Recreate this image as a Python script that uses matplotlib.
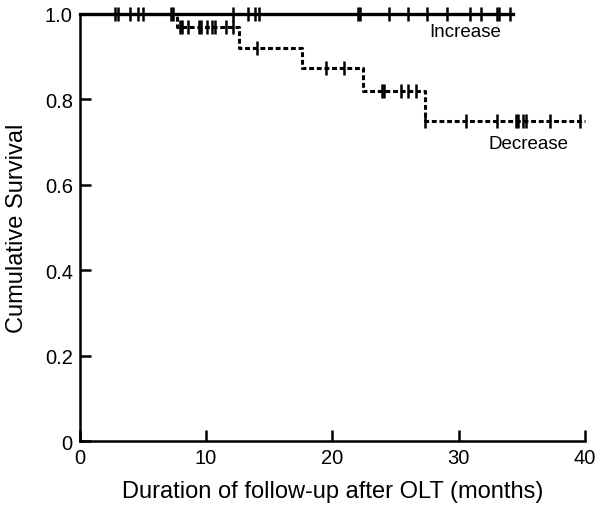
import numpy as np
import matplotlib
matplotlib.use('Agg')
import matplotlib.pyplot as plt

plt.rcParams['font.family'] = ['Liberation Sans', 'DejaVu Sans']

# Increase group: no events, stays at 1.0
inc_end = 34.3
inc_censor = [2.8, 3.0, 4.0, 4.6, 5.0, 7.2, 7.4, 12.1, 13.3, 13.9, 14.2,
              22.0, 22.2, 24.5, 26.0, 27.5, 29.1, 30.9, 31.8, 33.0, 33.2, 34.1]

# Decrease group: step curve
dec_times = [0, 7.7, 12.6, 17.6, 22.4, 27.3]
dec_surv = [1.0, 0.968, 0.92, 0.873, 0.819, 0.75]
dec_end = 40
dec_censor = [7.9, 8.1, 8.6, 9.4, 9.6, 10.1, 10.5, 10.7, 11.6, 12.1, 14.0,
              19.5, 20.9, 23.9, 24.1, 25.4, 26.0, 26.6, 27.35, 30.6, 33.0,
              34.5, 34.7, 35.1, 35.3, 37.2, 39.6]

x_ticks = [0, 10, 20, 30, 40]
y_ticks = [0, 0.2, 0.4, 0.6, 0.8, 1.0]
y_labels = ['0', '0.2', '0.4', '0.6', '0.8', '1.0']


def step_value(times, surv, t):
    idx = np.searchsorted(times, t, side='right') - 1
    return np.array(surv)[idx]


fig = plt.figure(figsize=(6, 5.1), dpi=100)
ax = fig.add_axes([0.133, 0.133, 0.842, 0.838])

# decrease curve (dashed)
xs = list(dec_times) + [dec_end]
ys = list(dec_surv) + [dec_surv[-1]]
ax.step(xs, ys, where='post', color='black', lw=2.2, linestyle=(0, (1.6, 0.9)),
        clip_on=False)
ax.plot(dec_censor, step_value(dec_times, dec_surv, dec_censor), linestyle='none',
        marker='|', ms=10, mew=1.8, color='black', clip_on=False)

# increase curve (solid)
ax.plot([0, inc_end], [1.0, 1.0], color='black', lw=2.4, clip_on=False)
ax.plot(inc_censor, np.ones(len(inc_censor)), linestyle='none', marker='|',
        ms=10, mew=1.8, color='black', clip_on=False)

ax.text(30.5, 0.958, 'Increase', fontsize=13.5, ha='center', va='center')
ax.text(35.5, 0.696, 'Decrease', fontsize=13.5, ha='center', va='center')

ax.set_xlim(0, 40)
ax.set_ylim(0, 1.0)
ax.set_xticks(x_ticks)
ax.set_yticks(y_ticks)
ax.set_yticklabels(y_labels)
ax.tick_params(direction='in', length=8, width=1.8, labelsize=14.5)
ax.tick_params(axis='x', pad=5)
ax.tick_params(axis='y', pad=5)
for s in ['top', 'right']:
    ax.spines[s].set_visible(False)
for s in ['left', 'bottom']:
    ax.spines[s].set_linewidth(1.8)

ax.set_xlabel('Duration of follow-up after OLT (months)', fontsize=17, labelpad=9)
ax.set_ylabel('Cumulative Survival', fontsize=17, labelpad=12)

fig.savefig('out.png', dpi=100)
